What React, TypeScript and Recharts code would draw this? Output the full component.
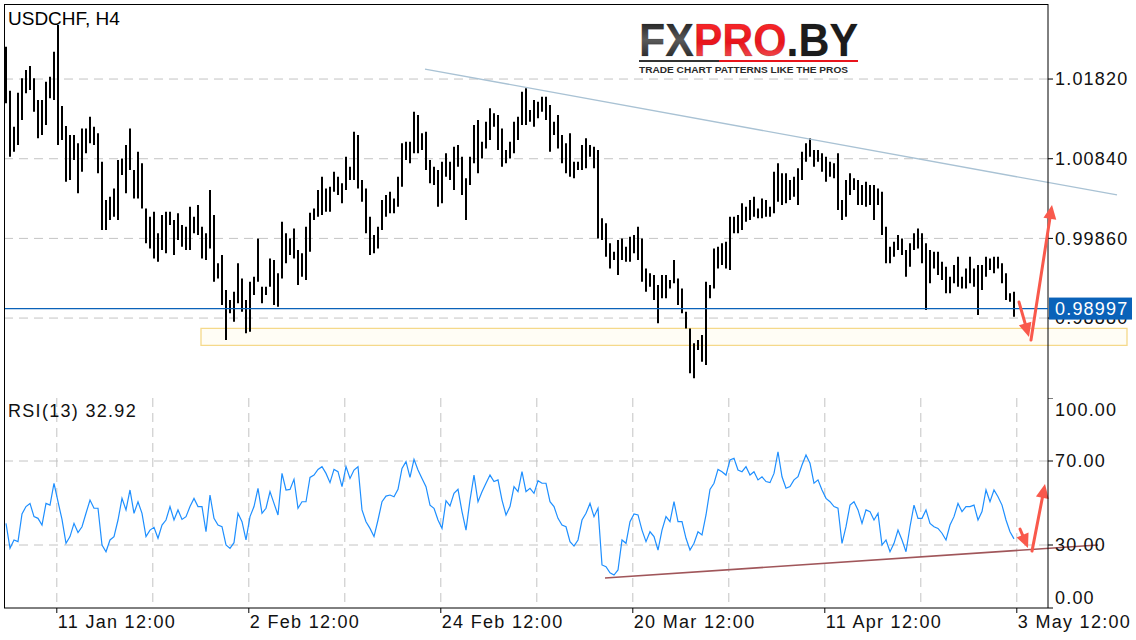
import React from 'react';
import { ComposedChart, Bar, Line, XAxis, YAxis, CartesianGrid, ReferenceLine, ReferenceArea } from 'recharts';

const high = [
  1.02218, 1.01677, 1.01234, 1.01652, 1.01829, 1.01931, 1.0198, 1.01829, 1.01562, 1.01562,
  1.01788, 1.01849, 1.02157, 1.02485, 1.01488, 1.01242, 1.01132, 1.01132, 1.01029, 1.01213,
  1.01213, 1.01357, 1.01234, 1.01152, 1.00803, 1.00332, 1.00373, 1.00475, 1.00824, 1.00844,
  1.01009, 1.01213, 1.00701, 1.00927, 1.00783, 1.00229, 1.00127, 1.00188, 0.99922, 1.00147,
  1.00188, 1.00188, 1.00086, 1.00168, 1.00024, 1.00004, 1.0025, 1.00127, 1.0027, 1.00004,
  0.99922, 1.00455, 1.00147, 0.99553, 0.99655, 0.99225, 0.99102, 0.99204, 0.99553, 0.99368,
  0.99102, 0.99327, 0.99389, 0.9986, 0.99266, 0.99266, 0.99614, 0.99594, 0.9943, 1.00065,
  0.99922, 0.9986, 0.99983, 0.99717, 0.99676, 1.00004, 1.00176, 1.00229, 1.00455, 1.00619,
  1.00475, 1.00496, 1.0068, 1.00619, 1.00537, 1.00865, 1.00742, 1.01172, 1.01132, 1.00578,
  1.00475, 1.00127, 0.99901, 1.00004, 1.00332, 1.00393, 1.00434, 1.00352, 1.00619, 1.01029,
  1.01049, 1.01049, 1.01419, 1.01378, 1.01152, 1.01172, 1.00824, 1.00742, 1.00701, 1.00803,
  1.00906, 1.00803, 1.00988, 1.01009, 1.00865, 1.00599, 1.00865, 1.01255, 1.01316, 1.01049,
  1.01296, 1.0146, 1.01398, 1.01378, 1.01213, 1.00947, 1.01049, 1.01296, 1.01357, 1.01665,
  1.01706, 1.01439, 1.01562, 1.01542, 1.01603, 1.01603, 1.01501, 1.01296, 1.01378, 1.01132,
  1.01029, 1.01152, 1.00803, 1.00803, 1.01009, 1.01091, 1.01009, 1.00988, 1.00947, 1.00107,
  1.00045, 0.99799, 0.99696, 0.9984, 0.9986, 0.99758, 0.99881, 0.99901, 1.00004, 0.9986,
  0.99491, 0.9943, 0.99409, 0.99286, 0.99409, 0.99409, 0.99348, 0.99594, 0.99368, 0.99245,
  0.98958, 0.98753, 0.98569, 0.9861, 0.98671, 0.99327, 0.99286, 0.99737, 0.99758, 0.99799,
  0.99819, 1.00127, 1.00127, 1.00147, 1.00291, 1.0025, 1.00332, 1.00373, 1.00229, 1.00352,
  1.00332, 1.0025, 1.0068, 1.00783, 1.0066, 1.0066, 1.00578, 1.00619, 1.00722, 1.00927,
  1.01029, 1.01091, 1.00947, 1.00947, 1.00906, 1.00865, 1.00803, 1.00783, 1.00906, 1.00332,
  1.00578, 1.0066, 1.00599, 1.00578, 1.00517, 1.00558, 1.00517, 1.00517, 1.00475, 1.00434,
  1.00004, 0.99758, 0.99819, 0.99901, 0.9986, 0.99717, 0.99799, 0.99922, 0.99983, 0.99922,
  0.99799, 0.99717, 0.99696, 0.99696, 0.99573, 0.99512, 0.99389, 0.99532, 0.99635, 0.99389,
  0.99491, 0.99635, 0.99491, 0.99532, 0.99532, 0.99635, 0.99614, 0.99635, 0.99635, 0.99553,
  0.9943, 0.99184, 0.99204,
];

const low = [
  1.01521, 1.00865, 1.00927, 1.01009, 1.01316, 1.01644, 1.01685, 1.01419, 1.01091, 1.01132,
  1.01255, 1.01583, 1.01562, 1.01009, 1.0107, 1.00558, 1.00578, 1.00824, 1.00414, 1.0068,
  1.00906, 1.01029, 1.01009, 1.0066, 0.99963, 0.99963, 1.00086, 1.00127, 1.00086, 1.00639,
  1.00414, 1.00701, 1.00352, 1.00352, 1.00229, 0.99799, 0.99737, 0.99614, 0.99573, 0.99717,
  0.99676, 1.00024, 0.99655, 0.9984, 0.99758, 0.99717, 0.99717, 0.99922, 0.99901, 0.99614,
  0.99594, 0.99737, 0.99327, 0.99368, 0.9904, 0.9861, 0.98938, 0.98835, 0.99061, 0.98958,
  0.98692, 0.98712, 0.99163, 0.99327, 0.99061, 0.99163, 0.99266, 0.9904, 0.9902, 0.99368,
  0.99553, 0.99655, 0.99614, 0.99286, 0.99389, 0.99348, 0.99696, 1.00086, 1.00127, 1.00147,
  1.00188, 1.00188, 1.00434, 1.00393, 1.00291, 1.00455, 1.00578, 1.00578, 1.00475, 1.00311,
  0.99922, 0.99655, 0.99676, 0.99737, 0.99963, 1.00127, 1.00168, 1.00168, 1.0025, 1.00496,
  1.00824, 1.00783, 1.00906, 1.00906, 1.00947, 1.00701, 1.00537, 1.00517, 1.0025, 1.00291,
  1.00619, 1.00578, 1.00455, 1.00742, 1.00393, 1.00086, 1.00517, 1.00783, 1.0066, 1.00844,
  1.00967, 1.0107, 1.01234, 1.00947, 1.00742, 1.00783, 1.00844, 1.00906, 1.0107, 1.01255,
  1.01255, 1.01296, 1.01234, 1.01337, 1.01419, 1.01316, 1.00927, 1.01132, 1.00967, 1.00783,
  1.0066, 1.00619, 1.00599, 1.00701, 1.00701, 1.00722, 1.00865, 1.00722, 0.9986, 0.9984,
  0.99635, 0.99491, 0.99594, 0.99409, 0.99594, 0.99573, 0.99573, 0.99676, 0.99594, 0.99327,
  0.99204, 0.99266, 0.99102, 0.98815, 0.99123, 0.99123, 0.99245, 0.99307, 0.9904, 0.98938,
  0.98753, 0.982, 0.98139, 0.98487, 0.98343, 0.98302, 0.99123, 0.99245, 0.99491, 0.99532,
  0.99491, 0.99471, 0.99922, 0.99922, 0.99963, 1.00065, 1.00086, 1.00127, 1.00107, 1.00107,
  1.00127, 1.00127, 1.00168, 1.00311, 1.0027, 1.00291, 1.00332, 1.00373, 1.0027, 1.00578,
  1.00803, 1.00865, 1.00742, 1.00803, 1.0068, 1.00558, 1.00619, 1.00599, 1.00209, 1.00086,
  1.00127, 1.00393, 1.00455, 1.0027, 1.0027, 1.0025, 1.0027, 1.00086, 1.0027, 0.99901,
  0.99553, 0.99553, 0.99635, 0.99717, 0.99655, 0.99389, 0.99512, 0.99717, 0.99737, 0.99553,
  0.98979, 0.99307, 0.99491, 0.99409, 0.99348, 0.99184, 0.99184, 0.99307, 0.99266, 0.99245,
  0.99245, 0.99307, 0.99266, 0.98918, 0.99225, 0.99389, 0.99471, 0.9943, 0.99491, 0.99307,
  0.99102, 0.99082, 0.98897,
];

const rsi = [
  40.3, 28.4, 32.4, 31.6, 44.8, 48.3, 49.8, 43.5, 42.7, 39.5,
  49.8, 49.0, 59.4, 50.6, 42.2, 30.8, 34.0, 40.3, 35.9, 38.7,
  45.1, 51.4, 47.5, 47.5, 30.0, 26.8, 32.4, 34.0, 41.9, 52.2,
  46.7, 56.2, 45.1, 50.6, 45.1, 34.0, 37.1, 38.4, 33.2, 39.5,
  41.9, 48.3, 41.9, 46.7, 42.2, 43.5, 48.3, 52.2, 48.3, 48.3,
  36.3, 53.8, 42.7, 39.5, 38.7, 30.0, 28.4, 31.1, 45.1, 41.1,
  32.4, 43.5, 48.3, 57.0, 45.1, 47.5, 55.4, 49.8, 44.3, 64.1,
  56.2, 56.5, 61.3, 47.5, 50.6, 50.6, 62.2, 63.3, 66.0, 67.3,
  64.1, 59.7, 66.0, 64.9, 57.8, 67.3, 61.7, 65.7, 67.3, 46.7,
  41.1, 37.9, 34.0, 41.9, 50.6, 53.3, 53.8, 53.0, 56.5, 66.5,
  69.7, 62.2, 70.8, 65.7, 61.7, 57.8, 49.0, 47.5, 41.9, 37.9,
  51.1, 48.6, 54.6, 56.5, 45.9, 37.1, 51.4, 63.3, 50.6, 55.4,
  59.4, 63.3, 60.2, 61.0, 51.4, 44.3, 48.3, 57.8, 55.4, 64.9,
  55.4, 57.0, 54.6, 60.6, 59.4, 59.4, 50.6, 48.3, 42.7, 39.5,
  38.7, 31.6, 29.5, 32.4, 41.9, 45.1, 49.8, 43.5, 47.5, 20.5,
  19.7, 16.8, 15.7, 18.1, 32.4, 30.8, 41.1, 44.8, 44.3, 37.1,
  31.6, 36.3, 34.0, 27.6, 37.1, 43.5, 41.1, 50.6, 41.1, 41.1,
  33.2, 27.6, 30.8, 36.3, 34.8, 44.3, 56.5, 59.4, 66.0, 64.9,
  63.3, 70.5, 71.3, 65.7, 64.9, 67.3, 63.3, 64.9, 61.0, 62.5,
  60.2, 59.7, 64.1, 74.4, 62.5, 57.0, 57.8, 61.0, 62.5, 68.1,
  72.9, 68.9, 59.4, 61.0, 56.2, 52.2, 50.6, 48.3, 47.5, 30.8,
  38.7, 49.0, 50.6, 46.7, 40.3, 46.7, 45.9, 41.9, 45.1, 30.0,
  32.4, 26.8, 30.8, 37.1, 32.4, 26.8, 38.7, 49.0, 42.7, 42.7,
  46.7, 40.3, 38.7, 37.9, 35.6, 32.4, 39.5, 43.5, 49.8, 45.9,
  48.3, 48.3, 49.0, 41.9, 45.9, 56.2, 50.6, 56.2, 53.0, 49.0,
  41.9, 36.3, 32.92,
];

const lastPrice = 0.98997;
const priceTicks = [0.9888, 0.9986, 1.0084, 1.0182];
const rsiTicks = [0, 30, 70, 100];
const rsiGrid = [30, 70];
const timeTicks = [12.7, 36.7, 60.7, 84.7, 108.7, 132.7, 156.7, 180.7, 204.7, 228.7, 252.7];
const timeLabels = ['11 Jan 12:00', '', '2 Feb 12:00', '', '24 Feb 12:00', '', '20 Mar 12:00', '', '11 Apr 12:00', '', '3 May 12:00'];
const xDomain = [-0.5, 260.5];
const priceDomain = [0.97897, 1.02743];

const resistanceLine = [{ x: 104.75, y: 1.01943 }, { x: 277.75, y: 1.00394 }];
const supportZone = { x1: 48.75, x2: 280.25, y1: 0.98545, y2: 0.98754 };
const rsiSupport = [{ x: 149.75, y: 14.3 }, { x: 273, y: 30 }];
const priceArrows = [
  [{ x: 253.25, y: 0.99077 }, { x: 255.75, y: 0.98647 }],
  [{ x: 256.25, y: 0.9861 }, { x: 261.5, y: 1.00271 }],
];
const rsiArrows = [
  [{ x: 253.5, y: 37.6 }, { x: 255.5, y: 28.6 }],
  [{ x: 256.5, y: 27.1 }, { x: 259.75, y: 59.0 }],
];

const data = high.map((h, i) => ({ i, high: h, low: low[i], rsi: rsi[i] }));

const FONT = '"Liberation Sans", Arial, Helvetica, sans-serif';
const GRID = '#c4c4c4';
const ARROW = '#f9594c';
const BLUE = '#0a62b9';

const ArrowShape = (p: any) => {
  const { x1, y1, x2, y2 } = p;
  const dx = x2 - x1;
  const dy = y2 - y1;
  const len = Math.hypot(dx, dy) || 1;
  const ux = dx / len;
  const uy = dy / len;
  const hl = 14;
  const hw = 6.5;
  const bx = x2 - ux * hl;
  const by = y2 - uy * hl;
  const px = -uy;
  const py = ux;
  return (
    <g>
      <line x1={x1} y1={y1} x2={bx + ux * 2} y2={by + uy * 2} stroke={ARROW} strokeWidth={3} strokeLinecap="round" />
      <polygon points={`${x2},${y2} ${bx + px * hw},${by + py * hw} ${bx - px * hw},${by - py * hw}`} fill={ARROW} />
    </g>
  );
};

const PriceTag = (p: any) => {
  const { x1, y1, x2, y2 } = p;
  const xr = Math.max(x1, x2);
  const xl = Math.min(x1, x2);
  return (
    <g>
      <line x1={xl} y1={y1} x2={xr} y2={y2} stroke={BLUE} strokeWidth={1.3} />
      <rect x={xr + 1} y={y1 - 11} width={83} height={22} fill={BLUE} />
      <text x={xr + 7} y={y1 + 6.5} fill="#fff" fontSize={18} letterSpacing={1.2} fontFamily={FONT}>
        {lastPrice.toFixed(5)}
      </text>
    </g>
  );
};

const PriceTick = (props: any) => {
  const { x, y, payload } = props;
  return (
    <g>
      <line x1={x} y1={y} x2={x + 5} y2={y} stroke="#000" />
      <text x={x + 7} y={y + 6.3} fontSize={18} letterSpacing={1.2} fill="#111" fontFamily={FONT}>
        {Number(payload.value).toFixed(5)}
      </text>
    </g>
  );
};

const RsiTick = (props: any) => {
  const { x, y, payload } = props;
  const v = Number(payload.value);
  const dy = v >= 100 ? 18 : v <= 0 ? -4 : 6.3;
  return (
    <g>
      <line x1={x} y1={y} x2={x + 5} y2={y} stroke="#000" />
      <text x={x + 7} y={y + dy} fontSize={18} letterSpacing={1.2} fill="#111" fontFamily={FONT}>
        {v.toFixed(2)}
      </text>
    </g>
  );
};

const TimeTick = (props: any) => {
  const { x, y, payload } = props;
  const idx = timeTicks.indexOf(payload.value);
  const label = idx >= 0 ? timeLabels[idx] : '';
  if (!label) return <g />;
  return (
    <g>
      <line x1={x} y1={y} x2={x} y2={y + 5} stroke="#000" />
      <text x={x + 1} y={y + 20} fontSize={18} letterSpacing={1.3} fill="#111" fontFamily={FONT}>
        {label}
      </text>
    </g>
  );
};

export default function App() {
  const rsiLast = rsi[rsi.length - 1];
  return (
    <div style={{ position: 'absolute', left: 0, top: 0, width: 1136, height: 640, background: '#fff', overflow: 'hidden' }}>
      <div style={{ position: 'absolute', left: 0, top: 0 }}>
        <ComposedChart width={1136} height={398} data={data} margin={{ top: 4, right: 0, left: 4, bottom: 0 }}>
          <CartesianGrid stroke={GRID} strokeDasharray="9 6" verticalValues={timeTicks} horizontalValues={priceTicks} />
          <XAxis
            type="number"
            dataKey="i"
            domain={xDomain}
            ticks={timeTicks}
            allowDataOverflow
            height={0}
            tick={false}
            tickLine={false}
            axisLine={{ stroke: '#000' }}
          />
          <YAxis
            orientation="right"
            type="number"
            domain={priceDomain}
            allowDataOverflow
            ticks={priceTicks}
            interval={0}
            width={88}
            tickSize={0}
            tickMargin={0}
            tickLine={false}
            axisLine={{ stroke: '#000' }}
            tick={<PriceTick />}
          />
          <ReferenceArea
            x1={supportZone.x1}
            x2={supportZone.x2}
            y1={supportZone.y1}
            y2={supportZone.y2}
            ifOverflow="visible"
            fill="#fffbee"
            fillOpacity={0.6}
            stroke="#f5d98a"
            strokeWidth={1.3}
          />
          <Bar dataKey={(d: any) => [d.low, d.high]} fill="#000" barSize={2} isAnimationActive={false} />
          <ReferenceLine segment={resistanceLine} ifOverflow="visible" stroke="#a9c2d4" strokeWidth={1.3} />
        </ComposedChart>
      </div>
      {/* overlay layer for the last-price tag and arrows, drawn above the axis labels */}
      <div style={{ position: 'absolute', left: 0, top: 0, pointerEvents: 'none' }}>
        <ComposedChart width={1136} height={398} data={data} margin={{ top: 4, right: 0, left: 4, bottom: 0 }}>
          <XAxis type="number" dataKey="i" domain={xDomain} allowDataOverflow height={0} tick={false} tickLine={false} axisLine={false} />
          <YAxis orientation="right" type="number" domain={priceDomain} allowDataOverflow width={88} tick={false} tickLine={false} axisLine={false} />
          <ReferenceLine y={lastPrice} ifOverflow="visible" shape={PriceTag} />
          {priceArrows.map((s, k) => (
            <ReferenceLine key={k} segment={s} ifOverflow="visible" shape={ArrowShape} />
          ))}
        </ComposedChart>
      </div>
      <div style={{ position: 'absolute', left: 0, top: 398 }}>
        <ComposedChart width={1136} height={242} data={data} margin={{ top: 0, right: 0, left: 4, bottom: 0 }}>
          <CartesianGrid stroke={GRID} strokeDasharray="9 6" verticalValues={timeTicks} horizontalValues={rsiGrid} />
          <XAxis
            type="number"
            dataKey="i"
            domain={xDomain}
            ticks={timeTicks}
            allowDataOverflow
            interval={0}
            height={32}
            tickSize={0}
            tickMargin={0}
            tickLine={false}
            axisLine={{ stroke: '#000' }}
            tick={<TimeTick />}
          />
          <YAxis
            orientation="right"
            type="number"
            domain={[0, 100]}
            allowDataOverflow
            ticks={rsiTicks}
            interval={0}
            width={88}
            tickSize={0}
            tickMargin={0}
            tickLine={false}
            axisLine={{ stroke: '#000' }}
            tick={<RsiTick />}
          />
          <Line dataKey="rsi" type="linear" stroke="#1e8fff" strokeWidth={1.2} dot={false} isAnimationActive={false} />
          <ReferenceLine segment={rsiSupport} ifOverflow="visible" stroke="#a0565a" strokeWidth={1.6} />
          {rsiArrows.map((s, k) => (
            <ReferenceLine key={k} segment={s} ifOverflow="visible" shape={ArrowShape} />
          ))}
        </ComposedChart>
      </div>
      <div style={{ position: 'absolute', left: 4, top: 4, width: 1044, height: 604, borderLeft: '1px solid #000', borderTop: '1px solid #000', boxSizing: 'border-box', pointerEvents: 'none' }} />
      <div style={{ position: 'absolute', left: 8, top: 8, fontFamily: FONT, fontSize: 19, lineHeight: '22px', color: '#000', whiteSpace: 'nowrap' }}>
        USDCHF, H4
      </div>
      <div style={{ position: 'absolute', left: 8, top: 400, fontFamily: FONT, fontSize: 18, letterSpacing: 1.3, lineHeight: '22px', color: '#111', whiteSpace: 'nowrap' }}>
        {`RSI(13) ${rsiLast.toFixed(2)}`}
      </div>
      <svg width={1136} height={100} style={{ position: 'absolute', left: 0, top: 0, pointerEvents: 'none' }}>
        <defs>
          <linearGradient id="fxg" x1="0" y1="0" x2="0" y2="1">
            <stop offset="0" stopColor="#0d0d0d" />
            <stop offset="0.5" stopColor="#5a5a5a" />
            <stop offset="1" stopColor="#151515" />
          </linearGradient>
          <linearGradient id="prog" x1="0" y1="0" x2="0" y2="1">
            <stop offset="0" stopColor="#ff3030" />
            <stop offset="0.55" stopColor="#e8141c" />
            <stop offset="1" stopColor="#f46a6a" />
          </linearGradient>
        </defs>
        <text x={639} y={56} fontFamily={FONT} fontWeight={900} fontSize={46} textLength={219} lengthAdjust="spacingAndGlyphs" stroke="#000" strokeWidth={0.6} strokeOpacity={0.25}>
          <tspan fill="url(#fxg)">FX</tspan>
          <tspan fill="url(#prog)">PRO</tspan>
          <tspan fill="#1c1c1c">.BY</tspan>
        </text>
        <rect x={639} y={60} width={80} height={2} fill="#333" />
        <rect x={719} y={60} width={139} height={2} fill="#e8141c" />
        <text x={639} y={73} fontFamily={FONT} fontWeight={700} fontSize={9.5} fill="#2a2a2a" textLength={209} lengthAdjust="spacingAndGlyphs">
          TRADE CHART PATTERNS LIKE THE PROS
        </text>
      </svg>
    </div>
  );
}
